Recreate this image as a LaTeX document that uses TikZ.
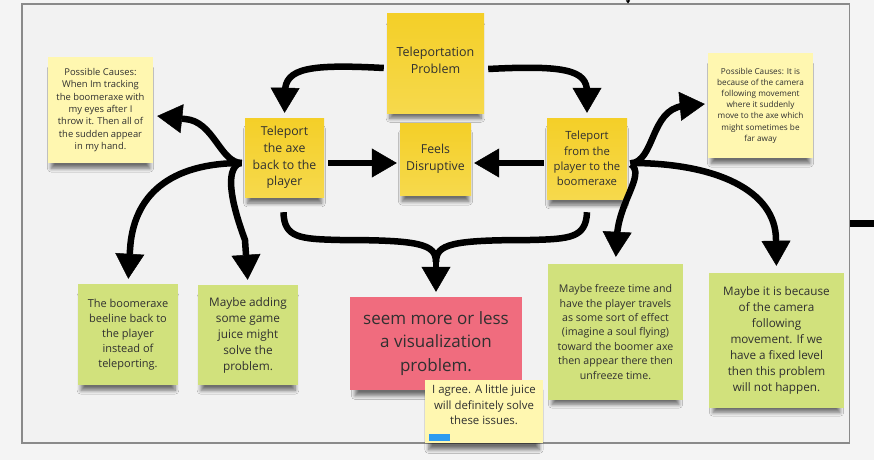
\documentclass[tikz,border=0pt]{standalone}
\usepackage{fontspec}
\setmainfont{Open Sans}
\usetikzlibrary{arrows.meta,calc,shadows.blur}
\definecolor{bgout}{HTML}{F4F4F4}
\definecolor{bgin}{HTML}{F2F2F2}
\definecolor{framecol}{HTML}{8A8A8A}
\definecolor{noteYtop}{HTML}{F4CF28}
\definecolor{noteYbot}{HTML}{F6D94C}
\definecolor{noteLY}{HTML}{FFF7B0}
\definecolor{noteG}{HTML}{D1E17C}
\definecolor{noteR}{HTML}{F06C7E}
\definecolor{txt}{HTML}{303030}
\definecolor{barblue}{HTML}{2D9BF0}
\newcommand\myfs[2]{\fontsize{#1}{#2}\selectfont}
\begin{document}
\begin{tikzpicture}[x=1pt,y=-1pt,
  note/.style={rectangle, inner sep=2pt, align=center, text=txt,
    blur shadow={shadow xshift=0pt, shadow yshift=-9pt, shadow scale=0.94,
      shadow opacity=55, shadow blur radius=4pt, shadow blur steps=8}},
  ynote/.style={note, top color=noteYtop, bottom color=noteYbot},
  conn/.style={line width=6.5pt, black},
  arr/.style={conn, -{Triangle[length=25pt,width=29pt,line width=0.5pt]}}]
\useasboundingbox (0,0) rectangle (874,460);
\fill[bgout] (0,0) rectangle (874,460);
\draw[framecol, line width=1.3pt, fill=bgin] (22,4) rectangle (849.5,443);

% notes
\node[ynote, minimum width=97pt, minimum height=99pt, font=\myfs{12.5}{17}] (prob) at (435.5,63.5) {Teleportation\\Problem\\[-11pt]\rule{0pt}{0pt}};
\node[ynote, minimum width=79pt, minimum height=79pt, font=\myfs{12.3}{16.7}] (axe) at (284.5,157.5) {Teleport\\the axe\\back to the\\player};
\node[ynote, minimum width=71pt, minimum height=72pt, font=\myfs{12.3}{16.7}] (feels) at (435.5,159) {Feels\\Disruptive};
\node[ynote, minimum width=80pt, minimum height=81pt, font=\myfs{11.3}{15.3}] (from) at (587,158.5) {Teleport\\from the\\player to the\\boomeraxe};
\node[note, fill=noteLY, minimum width=105pt, minimum height=106pt, font=\myfs{9.4}{12.3}] (causeL) at (100.5,110) {Possible Causes:\\When Im tracking\\the boomeraxe with\\my eyes after I\\throw it. Then all of\\the sudden appear\\in my hand.};
\node[note, fill=noteLY, minimum width=105pt, minimum height=105pt, font=\myfs{8.2}{11.2}] (causeR) at (760.5,105.5) {Possible Causes: It is\\because of the camera\\following movement\\where it suddenly\\move to the axe which\\might sometimes be\\far away};
\node[note, fill=noteG, minimum width=100pt, minimum height=101pt, font=\myfs{11}{15}] (beeline) at (128,334.5) {The boomeraxe\\beeline back to\\the player\\instead of\\teleporting.};
\node[note, fill=noteG, minimum width=100pt, minimum height=100pt, font=\myfs{11.8}{16}] (juice) at (248,335) {Maybe adding\\some game\\juice might\\solve the\\problem.};
\node[note, fill=noteR, minimum width=172pt, minimum height=93pt, font=\myfs{17}{23.5}] (vis) at (436,343.5) {seem more or less\\a visualization\\problem.};
\node[note, fill=noteLY, minimum width=118pt, minimum height=63pt, font=\myfs{11.4}{15.5}] (agree) at (484,411.5) {I agree. A little juice\\will definitely solve\\these issues.\\[-2pt]\rule{0pt}{0pt}};
\fill[barblue] ($(agree.south west)+(4,-9)$) rectangle ++(21,7);
\node[note, fill=noteG, minimum width=135pt, minimum height=136pt, font=\myfs{10.6}{14.4}] (freeze) at (615.5,332) {Maybe freeze time and\\have the player travels\\as some sort of effect\\(imagine a soul flying)\\toward the boomer axe\\then appear there then\\unfreeze time.};
\node[note, fill=noteG, minimum width=135pt, minimum height=135pt, font=\myfs{11.7}{15.9}] (camera) at (776.5,340.5) {Maybe it is because\\of the camera\\following\\movement. If we\\have a fixed level\\then this problem\\will not happen.};

% connectors
\draw[arr, shorten >=5pt] ($(prob.west)+(-3,4.5)$) .. controls (310,64) and (285,68) .. (285,92) -- (axe.north);
\draw[arr, shorten >=5pt] ($(prob.east)+(4,5.5)$) .. controls (565,65) and (587,70) .. (587,92) -- (from.north);
\draw[arr] ($(axe.east)+(4,5.5)$) -- ($(feels.west)+(-3,4)$);
\draw[arr] ($(from.west)+(-3,4.5)$) -- ($(feels.east)+(3,4)$);
\draw[arr] ($(axe.west)+(-3,5.5)$) .. controls (220,163) and (214,121) .. (185,119) -- ($(causeL.east)+(4,6)$);
\draw[arr, shorten >=5pt] ($(axe.west)+(-3,5.5)$) .. controls (170,163) and (133,195) .. (130,250) -- (beeline.north);
\draw[arr, shorten >=5pt] ($(axe.west)+(-5,5.5)$) .. controls (224,170) and (232,205) .. (245,240) -- (juice.north);
\coordinate (merge) at (436,262);
\draw[conn] ($(axe.south)+(-1,15)$) .. controls (284,238) and (300,239) .. (340,240) .. controls (420,240) and (436,244) .. (merge);
\draw[conn] ($(from.south)+(0,13)$) .. controls (586,238) and (570,239) .. (530,240) .. controls (452,240) and (436,244) .. (merge);
\draw[arr, shorten >=5pt] (merge) -- (vis.north);
\draw[arr] ($(from.east)+(3,5)$) .. controls (655,162) and (650,110) .. (683,106) -- ($(causeR.west)+(-3,-1.5)$);
\draw[arr, shorten >=7pt] ($(from.east)+(4,6)$) .. controls (645,175) and (620,200) .. (617,235) -- (freeze.north);
\draw[arr, shorten >=7pt] ($(from.east)+(4,4.5)$) .. controls (715,163) and (776,190) .. (776,240) -- (camera.north);

% off-canvas stubs
\coordinate (offA) at (850,223.5);
\coordinate (offB) at (874,223.5);
\draw[conn] (offA) -- (offB);
\coordinate (topA) at (628,-2);
\coordinate (topB) at (628,3.5);
\draw[line width=1pt, -{Triangle[length=3pt,width=4pt,line width=0.3pt]}] (topA) -- (topB);
\end{tikzpicture}
\end{document}
